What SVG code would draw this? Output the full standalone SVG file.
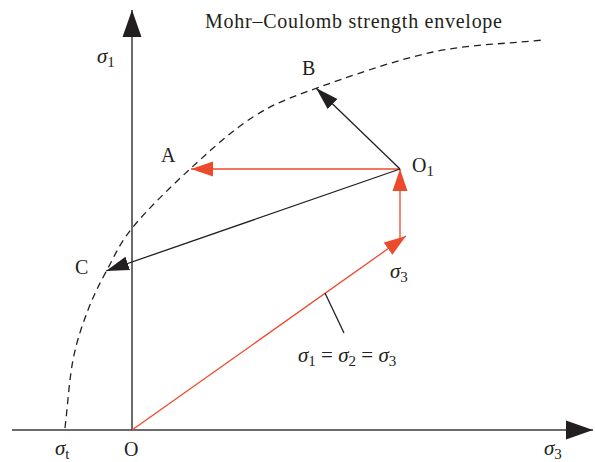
<svg xmlns="http://www.w3.org/2000/svg" width="595" height="462" viewBox="0 0 595 462">
<style>
text{font-family:"Liberation Serif","Times New Roman",serif;fill:#231f20;font-size:20px}
.g{font-style:italic;font-size:21px}
.s{font-size:15px;font-style:normal}
.ax{stroke:#3a3a3a;stroke-width:1.5;fill:none}
.bk{stroke:#231f20;stroke-width:1.3;fill:none}
.rd{stroke:#ec4a2c;stroke-width:1.3;fill:none}
.env{stroke:#231f20;stroke-width:1.3;fill:none;stroke-dasharray:7 5}
</style>
<defs>
<marker id="ax" markerUnits="userSpaceOnUse" markerWidth="28" markerHeight="20" viewBox="0 0 28 20" refX="27" refY="10" orient="auto"><path d="M0,0.5 L27,10 L0,19.5 Z" fill="#231f20"/></marker>
<marker id="bk" markerUnits="userSpaceOnUse" markerWidth="24" markerHeight="16" viewBox="0 0 24 16" refX="23" refY="8" orient="auto"><path d="M0,1 L23,8 L0,15 Z" fill="#231f20"/></marker>
<marker id="rd" markerUnits="userSpaceOnUse" markerWidth="23" markerHeight="16" viewBox="0 0 23 16" refX="22" refY="8" orient="auto"><path d="M0,0.5 L22,8 L0,15.5 Z" fill="#ec4a2c"/></marker>
</defs>
<g id="connectors">
<path id="envelope" class="env" d="M65,428 C67.7,405.3 69.2,379.7 73,360 C76.8,340.3 82.3,325 88,310 C93.7,295 99.5,283.8 107,270 C114.5,256.2 119.2,243.8 133,227 C146.8,210.2 170,187.3 190,169 C210,150.7 231.8,130.5 253,117 C274.2,103.5 287,98.8 317,88 C347,77.2 395.3,60 433,52 C470.7,44 506.3,44 543,40"/>
<line class="ax" x1="132" y1="430" x2="132" y2="10" marker-end="url(#ax)"/>
<line class="ax" x1="12" y1="430" x2="593" y2="430" marker-end="url(#ax)"/>
<line class="rd" x1="132" y1="430" x2="406" y2="236" marker-end="url(#rd)"/>
<line class="rd" x1="400" y1="238" x2="400" y2="169" marker-end="url(#rd)"/>
<line class="rd" x1="400" y1="169" x2="191" y2="169" marker-end="url(#rd)"/>
<line class="bk" x1="400" y1="169" x2="316" y2="88" marker-end="url(#bk)"/>
<line class="bk" x1="400" y1="169" x2="106" y2="271" marker-end="url(#bk)"/>
<line class="bk" x1="325" y1="293" x2="344" y2="333"/>
</g>
<g id="title"><text x="205" y="28" textLength="297" lengthAdjust="spacing">Mohr–Coulomb strength envelope</text></g>
<g id="label-s1"><text x="97" y="63" class="g">σ<tspan class="s" dy="4">1</tspan></text></g>
<g id="B"><text x="302" y="75">B</text></g>
<g id="A"><text x="161" y="162">A</text></g>
<g id="C"><text x="75" y="274">C</text></g>
<g id="O1"><text x="412" y="172">O<tspan class="s" dy="4">1</tspan></text></g>
<g id="label-s3-red"><text x="390" y="278" class="g">σ<tspan class="s" dy="4">3</tspan></text></g>
<g id="equal"><text x="298" y="362" class="g">σ<tspan class="s" dy="4">1</tspan><tspan dy="-4" font-style="normal"> = </tspan>σ<tspan class="s" dy="4">2</tspan><tspan dy="-4" font-style="normal"> = </tspan>σ<tspan class="s" dy="4">3</tspan></text></g>
<g id="st"><text x="55" y="455" class="g">σ<tspan class="s" dy="4">t</tspan></text></g>
<g id="O"><text x="124" y="456">O</text></g>
<g id="s3-axis"><text x="544" y="455" class="g">σ<tspan class="s" dy="4">3</tspan></text></g>
</svg>
